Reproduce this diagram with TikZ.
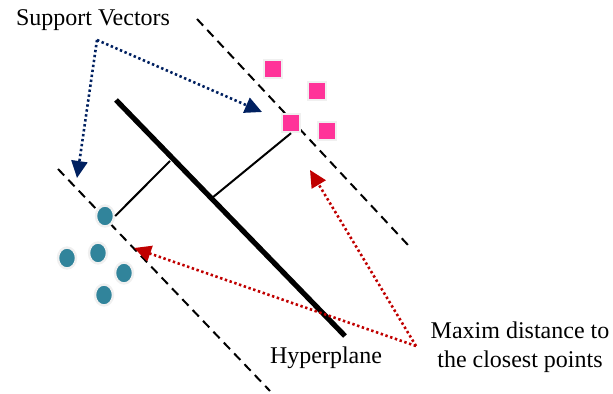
\documentclass[tikz,border=0pt]{standalone}
\usepackage{fontspec}
\setmainfont{Liberation Serif}
\usetikzlibrary{arrows.meta,shapes.geometric}
\definecolor{sqpink}{HTML}{FF3399}
\definecolor{dotteal}{HTML}{31849B}
\definecolor{svblue}{HTML}{002060}
\definecolor{distred}{HTML}{C00000}
\begin{document}
\begin{tikzpicture}[x=0.5pt, y=-0.5pt,
    possample/.style={draw=gray!12, line width=1.2pt, fill=sqpink, minimum size=9pt, inner sep=0pt},
    negsample/.style={ellipse, draw=gray!12, line width=1.2pt, fill=dotteal, minimum width=9pt, minimum height=10.5pt, inner sep=0pt},
    marginline/.style={line width=1pt, dash pattern=on 4.5pt off 3pt},
    svarrow/.style={svblue, line width=1.3pt, dash pattern=on 1.2pt off 1.3pt, -{Triangle[length=8.5pt,width=8pt]}},
    distarrow/.style={distred, line width=1.3pt, dash pattern=on 1.2pt off 1.3pt, -{Triangle[length=8.5pt,width=8pt]}},
    lbl/.style={font=\fontsize{12}{14.5}\selectfont, align=center, inner sep=0pt}]
    \useasboundingbox (0,0) rectangle (613,394);

    % Margin lines and hyperplane
    \coordinate (M1a) at (197,19);
    \coordinate (M1b) at (408,245);
    \coordinate (M2a) at (58,169);
    \coordinate (M2b) at (270,391);
    \coordinate (Ha) at (116,100);
    \coordinate (Hb) at (345,336);
    \draw[marginline] (M1a) -- (M1b);
    \draw[marginline] (M2a) -- (M2b);
    \draw[line width=2.6pt] (Ha) -- (Hb);

    % Samples: squares on one side, circles on the other
    \node[possample] (s1) at (273,69) {};
    \node[possample] (s2) at (317,91) {};
    \node[possample] (s3) at (291,123) {};
    \node[possample] (s4) at (327,131) {};
    \node[negsample] (c1) at (105,216) {};
    \node[negsample] (c2) at (98,253) {};
    \node[negsample] (c3) at (67,258) {};
    \node[negsample] (c4) at (124,273) {};
    \node[negsample] (c5) at (104,295) {};

    % Distances from the hyperplane to the support vectors
    \coordinate (P1) at (170,161);
    \coordinate (P2) at (212,198);
    \draw[line width=1pt] (P1) -- (c1.east);
    \draw[line width=1pt] (P2) -- (s3.south);

    % Labels
    \node[lbl] (svlabel) at (93,20) {Support Vectors};
    \node[lbl] (hplabel) at (326,358) {Hyperplane};
    \node[lbl] (distlabel) at (520,347) {Maxim distance to\\the closest points};

    % Pointers
    \coordinate (svfork) at (97,40);
    \coordinate (svtipA) at (262,112);
    \coordinate (svtipB) at (77,178);
    \draw[svarrow] (svfork) -- (svtipA);
    \draw[svarrow] (svfork) -- (svtipB);
    \coordinate (distfork) at (416,346);
    \coordinate (disttipA) at (134,248);
    \coordinate (disttipB) at (310,170);
    \draw[distarrow] (distfork) -- (disttipA);
    \draw[distarrow] (distfork) -- (disttipB);
\end{tikzpicture}
\end{document}
